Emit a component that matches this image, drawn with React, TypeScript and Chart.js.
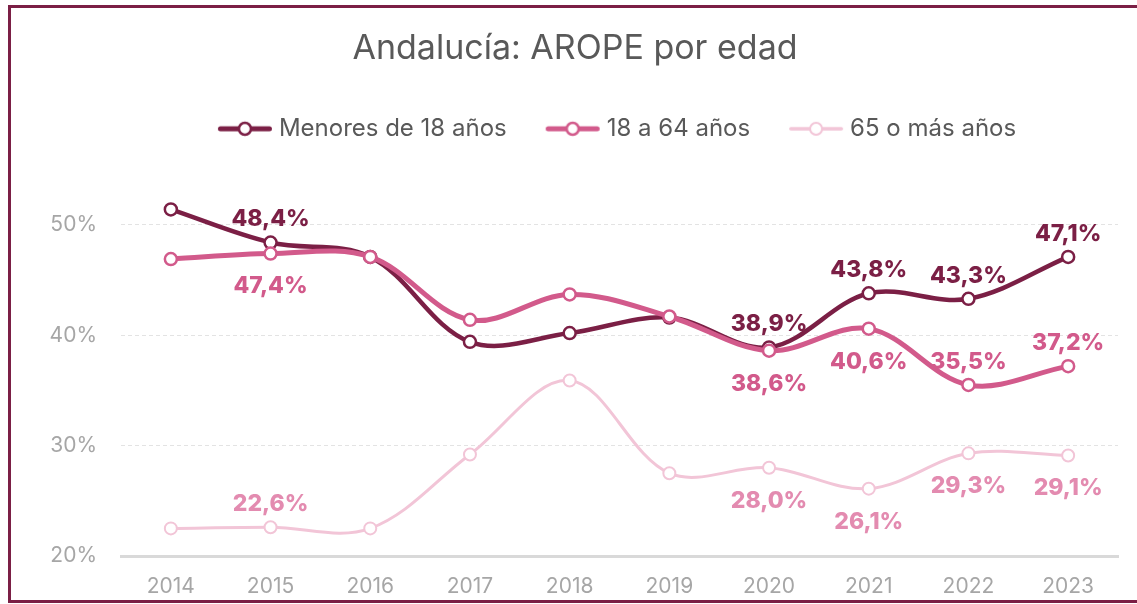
import React, { useEffect, useRef } from "react";
import { Chart, registerables } from "chart.js";

Chart.register(...registerables);

const years = ["2014", "2015", "2016", "2017", "2018", "2019", "2020", "2021", "2022", "2023"];
const menores = [51.4, 48.4, 47.1, 39.4, 40.2, 41.6, 38.9, 43.8, 43.3, 47.1];
const adultos = [46.9, 47.4, 47.1, 41.4, 43.7, 41.7, 38.6, 40.6, 35.5, 37.2];
const mayores = [22.5, 22.6, 22.5, 29.2, 35.9, 27.5, 28.0, 26.1, 29.3, 29.1];

const seriesNames = ["Menores de 18 años", "18 a 64 años", "65 o más años"];
const lineColors = ["#7B1F45", "#D25A8B", "#F2C5D7"];
const labelColors = ["#7B1F45", "#D25A8B", "#E38BB0"];

// indices labelled, and whether the label sits above (-1) or below (1)
const menoresLabelIdx = [1, 6, 7, 8, 9];
const menoresLabelSide = [-1, -1, -1, -1, -1];
const adultosLabelIdx = [1, 6, 7, 8, 9];
const adultosLabelSide = [1, 1, 1, -1, -1];
const mayoresLabelIdx = [1, 6, 7, 8, 9];
const mayoresLabelSide = [-1, 1, 1, 1, 1];

const yTicks = [20, 30, 40, 50];

const FONT = "Inter, 'Noto Sans', sans-serif";

function legendImage(color: string, lineW: number, borderW: number) {
  const c = document.createElement("canvas");
  c.width = 58;
  c.height = 18;
  const g = c.getContext("2d")!;
  g.strokeStyle = color;
  g.lineCap = "round";
  g.lineWidth = lineW;
  g.beginPath();
  g.moveTo(2 + lineW / 2, 9);
  g.lineTo(56 - lineW / 2, 9);
  g.stroke();
  g.beginPath();
  g.arc(29, 9, 6, 0, Math.PI * 2);
  g.fillStyle = "#FFFFFF";
  g.fill();
  g.lineWidth = borderW;
  g.stroke();
  return c;
}

const fmt = (v: number) => v.toFixed(1).replace(".", ",") + "%";

const labelPlugin = {
  id: "pointLabels",
  afterDatasetsDraw(chart: any) {
    const cfg = [
      { idx: menoresLabelIdx, side: menoresLabelSide },
      { idx: adultosLabelIdx, side: adultosLabelSide },
      { idx: mayoresLabelIdx, side: mayoresLabelSide },
    ];
    const ctx = chart.ctx;
    ctx.save();
    ctx.font = `800 23px ${FONT}`;
    ctx.textAlign = "center";
    ctx.textBaseline = "middle";
    chart.data.datasets.forEach((ds: any, di: number) => {
      const meta = chart.getDatasetMeta(di);
      ctx.fillStyle = labelColors[di];
      cfg[di].idx.forEach((i: number, k: number) => {
        const pt = meta.data[i];
        const side = cfg[di].side[k];
        const dy = side < 0 ? -23 : 33;
        ctx.fillText(fmt(ds.data[i]), pt.x, pt.y + dy);
      });
    });
    ctx.restore();
  },
};

export default function App() {
  const ref = useRef<HTMLCanvasElement>(null);
  useEffect(() => {
    const imgs = [legendImage(lineColors[0], 5, 2.5), legendImage(lineColors[1], 5, 2.5), legendImage(lineColors[2], 3.5, 2)];
    const mk = (label: string, data: number[], i: number, w: number, bw: number, order: number) => ({
      label,
      data,
      borderColor: lineColors[i],
      backgroundColor: "#FFFFFF",
      borderWidth: w,
      pointRadius: 6,
      pointHoverRadius: 6,
      pointBorderWidth: bw,
      pointBackgroundColor: "#FFFFFF",
      pointBorderColor: lineColors[i],
      tension: 0.35,
      clip: false as any,
      order,
    });
    const chart = new Chart(ref.current!, {
      type: "line",
      data: {
        labels: years,
        datasets: [
          mk(seriesNames[0], menores, 0, 4.5, 2.5, 1),
          mk(seriesNames[1], adultos, 1, 5, 2.5, 0),
          mk(seriesNames[2], mayores, 2, 3, 2, 2),
        ],
      },
      options: {
        animation: false,
        responsive: false,
        layout: { padding: { top: 0, right: 19, bottom: 8, left: 0 } },
        plugins: {
          title: {
            display: true,
            text: "Andalucía: AROPE por edad",
            color: "#595959",
            font: { family: FONT, size: 34, weight: "normal" as any, lineHeight: 1.2 },
            padding: { top: 28, bottom: 4 },
          },
          subtitle: {
            display: true,
            text: " ",
            weight: 500,
            font: { family: FONT, size: 10, lineHeight: 1 },
            padding: { top: 0, bottom: 42 },
          } as any,
          legend: {
            display: true,
            position: "top",
            fullSize: false,
            labels: {
              usePointStyle: true,
              pointStyleWidth: 44,
              padding: 44,
              color: "#595959",
              font: { family: FONT, size: 24 },
              generateLabels: (ch: any) =>
                ch.data.datasets.map((ds: any, i: number) => ({
                  text: ds.label,
                  pointStyle: imgs[i],
                  fontColor: "#595959",
                  datasetIndex: i,
                  hidden: false,
                  lineWidth: 0,
                })),
            },
          },
          tooltip: { enabled: false },
        },
        scales: {
          x: {
            offset: true,
            grid: { display: false, drawTicks: false, offset: true },
            border: { display: true, color: "#D9D9D9", width: 3 },
            ticks: { color: "#A6A6A6", font: { family: FONT, size: 21 }, padding: 18 },
            afterFit: (s: any) => {
              s.height = 40;
            },
          },
          y: {
            min: 20,
            max: 52,
            afterBuildTicks: (s: any) => {
              s.ticks = yTicks.map((v) => ({ value: v }));
            },
            grid: {
              drawTicks: false,
              color: (c: any) => (c.tick && c.tick.value === 20 ? "rgba(0,0,0,0)" : "#E3E3E3"),
              lineWidth: 1,
            },
            border: { display: false, dash: [4, 3] },
            ticks: {
              color: "#A6A6A6",
              font: { family: FONT, size: 21 },
              padding: 24,
              callback: (v: any) => v + "%",
            },
            afterFit: (s: any) => {
              s.width = 89;
            },
          },
        },
      },
      plugins: [labelPlugin],
    });
    return () => chart.destroy();
  }, []);

  return (
    <div style={{ position: "absolute", left: 0, top: 0, width: 1137, height: 604, background: "#FFFFFF" }}>
      <canvas ref={ref} width={1105} height={604} style={{ position: "absolute", left: 32, top: 0, width: 1105, height: 604 }} />
      <div
        style={{
          position: "absolute",
          left: 8,
          top: 5,
          width: 1129,
          height: 598,
          boxSizing: "border-box",
          borderTop: "3px solid #7B1F45",
          borderLeft: "3px solid #7B1F45",
          borderBottom: "3px solid #7B1F45",
          pointerEvents: "none",
        }}
      />
    </div>
  );
}
